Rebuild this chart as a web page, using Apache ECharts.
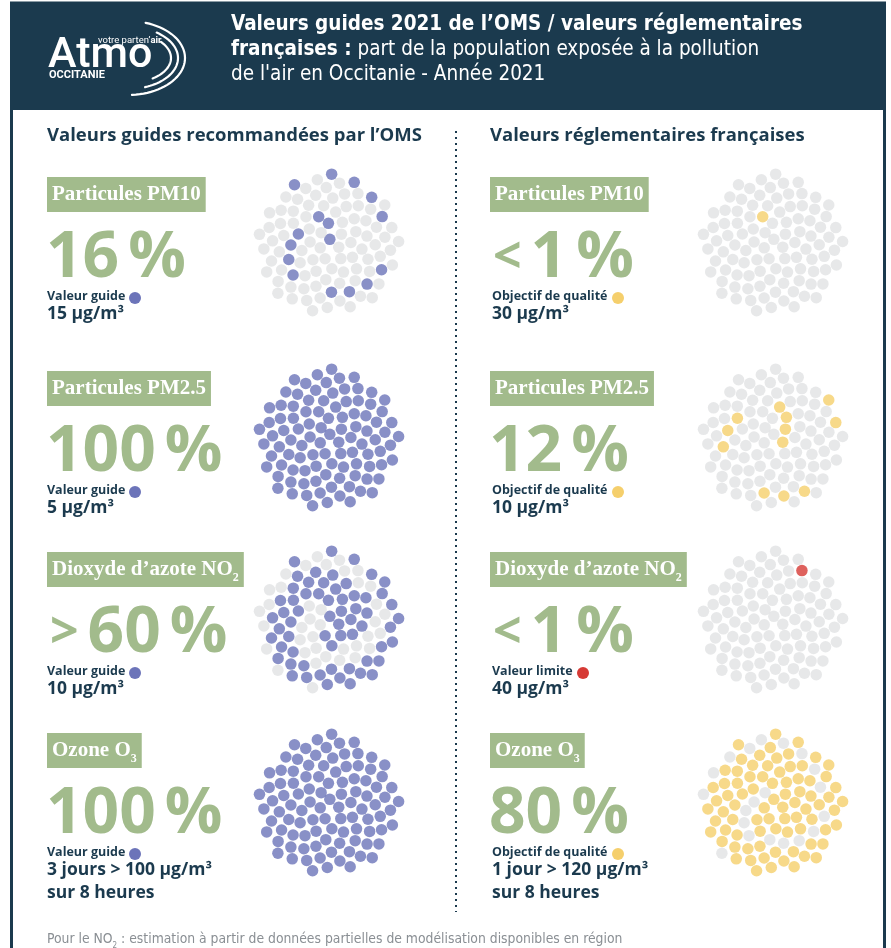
<!DOCTYPE html>
<html lang="fr">
<head>
<meta charset="UTF-8">
<title>Valeurs guides OMS / valeurs réglementaires - Occitanie 2021</title>
<style>
  html, body { margin: 0; padding: 0; background: #fff; }
  #chart { width: 891px; height: 948px; }
</style>
</head>
<body>
<div id="chart"></div>
<script src="https://cdn.jsdelivr.net/npm/echarts@6/dist/echarts.min.js"></script>
<script>
const pollutants = ['Particules PM10', 'Particules PM2.5', 'Dioxyde d’azote NO', 'Ozone O'];
const pollutantSub = ['', '', '2', '3'];

// share of population exposed (% of the 100 dots coloured)
const omsShare = [16, 100, 62, 100];
const omsText = ['16 %', '100 %', '>60 %', '100 %'];
const omsName = ['Valeur guide', 'Valeur guide', 'Valeur guide', 'Valeur guide'];
const omsValue = [['15 µg/m³'], ['5 µg/m³'], ['10 µg/m³'], ['3 jours > 100 µg/m³', 'sur 8 heures']];

const frShare = [1, 12, 1, 80];
const frText = ['<1 %', '12 %', '<1 %', '80 %'];
const frName = ['Objectif de qualité', 'Objectif de qualité', 'Valeur limite', 'Objectif de qualité'];
const frValue = [['30 µg/m³'], ['10 µg/m³'], ['40 µg/m³'], ['1 jour > 120 µg/m³', 'sur 8 heures']];
const frKind = ['quality', 'quality', 'limit', 'quality'];

const NDOTS = 100;
// where the coloured dots start in each circle (OMS x4, then FR x4)
const dotSeed = [11, 34, 57, 80, 8, 26, 84, 72];

// --- styling ---
const NAVY = '#1b3a4e';
const GREEN = '#a2bb8c';
const GREY_DOT = '#e1e2e4';
const PURPLE = '#6c74b9';
const YELLOW = '#f5cf6c';
const RED = '#d63a35';
const SANS = '"Open Sans", "Noto Sans", sans-serif';
const NARROW = '"Liberation Sans Narrow", "DejaVu Sans Condensed", "Roboto", sans-serif';
const SERIF = '"Liberation Serif", "DejaVu Serif", serif';

const rowTop = [177, 371, 552, 733];
const circleY = [244, 439, 621, 804];
const cols = [
    { x: 47, cx: 328, share: omsShare, text: omsText, name: omsName, value: omsValue },
    { x: 490, cx: 772, share: frShare, text: frText, name: frName, value: frValue }
];
const dotOffset = { 'Valeur guide': 88, 'Objectif de qualité': 126, 'Valeur limite': 91 };

let chart = echarts.init(document.getElementById('chart'));

// sunflower layout of the dots inside one circle
function dots(share, on, seed) {
    let out = [];
    for (let i = 0; i < NDOTS; i++) {
        let r = 0.885 * Math.sqrt((i + 0.5) / NDOTS);
        let a = i * 2.39996323 + 1.2;
        let rank = (i * 37 + seed) % NDOTS;
        out.push({
            value: [r * Math.cos(a), r * Math.sin(a)],
            itemStyle: { color: rank < share ? on : GREY_DOT }
        });
    }
    return out;
}

function txt(x, y, text, font, color, extra) {
    return {
        type: 'text', x: x, y: y, silent: true,
        style: Object.assign({
            text: text, font: font, fill: color,
            align: 'left', verticalAlign: 'middle'
        }, extra || {})
    };
}

// elliptic arc of the logo, as a polyline
function logoArc(cx, cy, rx, ry, a0, a1) {
    let pts = [];
    for (let t = 0; t <= 40; t++) {
        let a = (a0 + (a1 - a0) * t / 40) * Math.PI / 180;
        pts.push([cx + rx * Math.cos(a), cy + ry * Math.sin(a)]);
    }
    return { type: 'polyline', silent: true, shape: { points: pts },
        style: { stroke: '#fff', fill: null, lineWidth: 2.2, lineCap: 'round' } };
}

let grids = [], xAxes = [], yAxes = [], series = [], graphic = [];

// frame and header band
graphic.push({ type: 'rect', silent: true, shape: { x: 11.5, y: 3, width: 873, height: 990 },
    style: { fill: '#fff', stroke: NAVY, lineWidth: 3 } });
graphic.push({ type: 'rect', silent: true, shape: { x: 10, y: 2, width: 876, height: 108 },
    style: { fill: NAVY } });

// logo
graphic.push(txt(48, 56, 'Atmo', '500 43px Roboto', '#fff'));
graphic.push(txt(98, 41, '{a|votre parten’}{b|air}', '', '#fff', {
    rich: { a: { fontFamily: 'Roboto', fontSize: 9.5, fill: '#fff' },
            b: { fontFamily: 'Roboto', fontWeight: 'bold', fontSize: 9.5, fill: '#fff' } }
}));
graphic.push(txt(49, 75, 'OCCITANIE', 'bold 11px Roboto', '#fff'));
graphic.push(logoArc(128, 58, 57, 37, -72, 86));
graphic.push(logoArc(128, 58, 50, 31, -55, 70));
graphic.push(logoArc(128, 58, 43, 25, -40, 55));

// title
graphic.push(txt(231, 25, 'Valeurs guides 2021 de l’OMS / valeurs réglementaires', 'bold 20.5px ' + NARROW, '#fff'));
graphic.push(txt(231, 50, '{b|françaises :}{r| part de la population exposée à la pollution}', '', '#fff', {
    rich: { b: { fontFamily: NARROW, fontWeight: 'bold', fontSize: 20.5, fill: '#fff' },
            r: { fontFamily: NARROW, fontSize: 20.5, fill: '#fff' } }
}));
graphic.push(txt(231, 75, 'de l\'air en Occitanie - Année 2021', '20.5px ' + NARROW, '#fff'));

// section titles + separator
graphic.push(txt(47, 136, 'Valeurs guides recommandées par l’OMS', 'bold 18.5px ' + SANS, NAVY));
graphic.push(txt(490, 136, 'Valeurs réglementaires françaises', 'bold 18.5px ' + SANS, NAVY));
graphic.push({ type: 'line', silent: true, shape: { x1: 456, y1: 131, x2: 456, y2: 912 },
    style: { stroke: NAVY, lineWidth: 2, lineDash: [2, 4] } });

// footer
graphic.push(txt(47, 941, '{a|Pour le NO}{s|2}{a| : estimation à partir de données partielles de modélisation disponibles en région}', '', '#8a8f94', {
    rich: { a: { fontFamily: NARROW, fontSize: 13.8, fill: '#8a8f94', lineHeight: 18, verticalAlign: 'top' },
            s: { fontFamily: NARROW, fontSize: 8, fill: '#8a8f94', lineHeight: 8, verticalAlign: 'bottom' } }
}));

cols.forEach(function (col, c) {
    pollutants.forEach(function (p, k) {
        let top = rowTop[k];
        let colour = c === 0 ? PURPLE : (frKind[k] === 'limit' ? RED : YELLOW);

        // green pollutant label
        let label = '{m|' + p + '}' + (pollutantSub[k] ? '{s|' + pollutantSub[k] + '}' : '');
        graphic.push(txt(col.x, top, label, '', '#fff', {
            verticalAlign: 'top', backgroundColor: GREEN, padding: [4, 5, 3, 5],
            rich: { m: { fontFamily: SERIF, fontWeight: 'bold', fontSize: 21, lineHeight: 28, fill: '#fff' },
                    s: { fontFamily: SERIF, fontWeight: 'bold', fontSize: 12, lineHeight: 14, fill: '#fff', verticalAlign: 'bottom' } }
        }));

        // big percentage
        let t = col.text[k].replace(' %', '');
        let big = '';
        if (/^[<>]/.test(t)) { big += '{c|' + t[0] + '}'; t = t.slice(1); }
        big += '{n|' + t + '}{p|%}';
        graphic.push(txt(col.x - 1, top + 82, big, '', GREEN, {
            rich: { n: { fontFamily: SANS, fontWeight: 'bold', fontSize: 64, fill: GREEN },
                    p: { fontFamily: SANS, fontWeight: 'bold', fontSize: 64, fill: GREEN, padding: [0, 0, 0, 9] },
                    c: { fontFamily: SANS, fontWeight: 'bold', fontSize: 50, fill: GREEN, padding: [0, 9, 0, 4] } }
        }));

        // threshold
        let nx = col.x + (c === 0 ? 0 : 2);
        graphic.push(txt(nx, top + 119, col.name[k], 'bold 12.5px ' + SANS, NAVY));
        graphic.push({ type: 'circle', silent: true,
            shape: { cx: nx + dotOffset[col.name[k]], cy: top + 121, r: 6 }, style: { fill: colour } });
        col.value[k].forEach(function (line, j) {
            graphic.push(txt(nx, top + 137 + j * 23, line, 'bold 17.5px ' + SANS, NAVY));
        });

        // dot circle on its own hidden axes
        let g = grids.length;
        grids.push({ left: col.cx - 80, top: circleY[k] - 80, width: 160, height: 160 });
        xAxes.push({ gridIndex: g, type: 'value', min: -1, max: 1, show: false });
        yAxes.push({ gridIndex: g, type: 'value', min: -1, max: 1, show: false });
        series.push({
            type: 'scatter', xAxisIndex: g, yAxisIndex: g, symbolSize: 11.5, silent: true,
            data: dots(col.share[k], colour, dotSeed[g])
        });
    });
});

chart.setOption({
    animation: false,
    grid: grids,
    xAxis: xAxes,
    yAxis: yAxes,
    series: series,
    graphic: graphic
});
</script>
</body>
</html>
